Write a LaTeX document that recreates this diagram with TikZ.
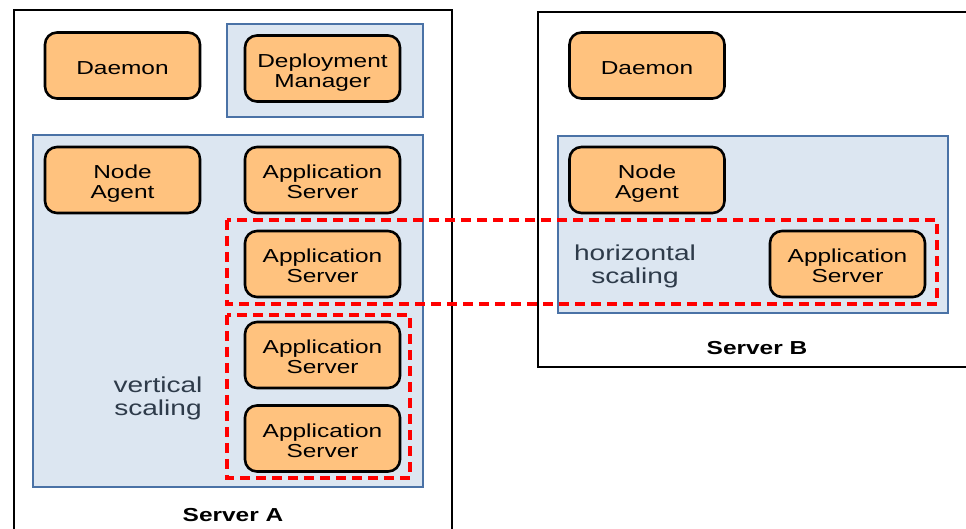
\documentclass[tikz,border=0pt]{standalone}
\usepackage{fontspec}
\setmainfont{Liberation Sans}[FakeStretch=1.3]
\definecolor{compfill}{HTML}{FFC27E}
\definecolor{contfill}{HTML}{DCE6F1}
\definecolor{contline}{HTML}{4A72A6}
\definecolor{scaletext}{HTML}{2E3B4A}
% label for a component box, drawn a little below the box centre
\newcommand{\comptext}[1]{\raisebox{-2.3pt}[\height][\depth]{\begin{tabular}{@{}c@{}}#1\end{tabular}}}
\tikzset{
  comp/.style={draw=black, line width=1.3pt, fill=compfill, rounded corners=6pt,
    minimum width=77.5pt, minimum height=33pt,
    font=\fontsize{9.4}{10}\selectfont, inner sep=0pt},
  container/.style={draw=contline, line width=1.3pt, fill=contfill, inner sep=0pt},
  server/.style={draw=black, line width=1.2pt},
  scalebox/.style={draw=red, line width=1.6pt, dash pattern=on 5pt off 3pt},
  scalelabel/.style={align=center, text=scaletext, font=\fontsize{10.8}{11.5}\selectfont},
  serverlabel/.style={font=\fontsize{9.4}{10}\selectfont\bfseries}
}
\begin{document}
\begin{tikzpicture}[x=0.5pt,y=-0.5pt]
\useasboundingbox (0,0) rectangle (966,529);
\fill[white] (0,0) rectangle (966,529);
\begin{scope}
\clip (0,0) rectangle (966,529);
% servers
\draw[server] (14,10) rectangle (452,545);
\draw[server] (538,12) rectangle (980,367);
\end{scope}
% containers
\node[container, minimum width=98pt, minimum height=46.5pt] (dmcont) at (325,70.5) {};
\node[container, minimum width=195pt, minimum height=176pt] (contA) at (228,311) {};
\node[container, minimum width=195pt, minimum height=88.5pt] (contB) at (753,224.5) {};
% Server A components
\node[comp] (daemonA) at (122.5,65.5) {\comptext{Daemon}};
\node[comp] (dm) at (322.5,68.5) {\comptext{Deployment\\Manager}};
\node[comp] (agentA) at (122.5,180) {\comptext{Node\\Agent}};
\node[comp] (asA1) at (322.5,180) {\comptext{Application\\Server}};
\node[comp] (asA2) at (322.5,264) {\comptext{Application\\Server}};
\node[comp] (asA3) at (322.5,355) {\comptext{Application\\Server}};
\node[comp] (asA4) at (322.5,438.5) {\comptext{Application\\Server}};
% Server B components
\node[comp] (daemonB) at (647,65.5) {\comptext{Daemon}};
\node[comp] (agentB) at (647,180) {\comptext{Node\\Agent}};
\node[comp] (asB) at (847.5,264) {\comptext{Application\\Server}};
% scaling groups
\draw[scalebox] (227,220) rectangle (937,304);
\draw[scalebox] (227,315) rectangle (410,478);
\node[scalelabel] (vert) at (158,398) {vertical\\scaling};
\node[scalelabel] (horiz) at (635,266) {horizontal\\scaling};
% server labels
\node[serverlabel] (labA) at (233,515) {Server A};
\node[serverlabel] (labB) at (757,348) {Server B};
\end{tikzpicture}
\end{document}
